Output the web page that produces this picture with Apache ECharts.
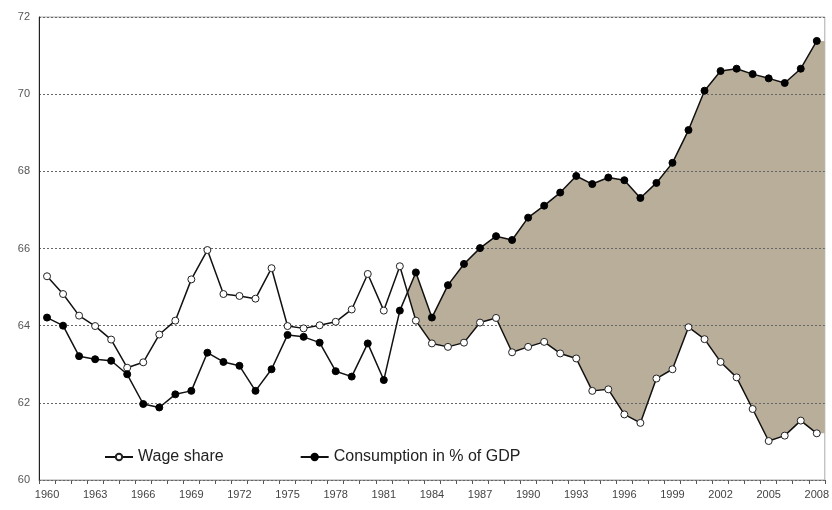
<!DOCTYPE html>
<html>
<head>
<meta charset="utf-8">
<script src="https://cdn.jsdelivr.net/npm/echarts@6/dist/echarts.min.js"></script>
<style>html,body{margin:0;padding:0;background:#fff}#c{width:832px;height:510px}</style>
</head>
<body>
<div id="c"></div>
<script>
const years = [];
for (let y = 1960; y <= 2008; y++) years.push(String(y));

const wageShare = [65.28,64.82,64.26,63.99,63.64,62.91,63.05,63.77,64.13,65.20,
  65.96,64.82,64.77,64.70,65.49,63.99,63.93,64.01,64.10,64.42,
  65.34,64.39,65.54,64.13,63.54,63.45,63.56,64.08,64.20,63.31,
  63.45,63.58,63.28,63.15,62.31,62.35,61.70,61.48,62.63,62.87,
  63.96,63.65,63.06,62.66,61.84,61.01,61.15,61.54,61.21];

const consumption = [64.21,64.00,63.21,63.13,63.09,62.74,61.97,61.88,62.22,62.31,
  63.30,63.06,62.96,62.31,62.87,63.76,63.71,63.56,62.82,62.68,
  63.54,62.59,64.39,65.38,64.21,65.05,65.60,66.01,66.32,66.22,
  66.80,67.11,67.45,67.88,67.67,67.84,67.77,67.31,67.70,68.22,
  69.07,70.09,70.60,70.66,70.52,70.41,70.29,70.66,71.38];

const yTicks = [60, 62, 64, 66, 68, 70, 72];
const shadeFrom = 1982;

// gap band (consumption above wage share), from the crossing after shadeFrom to the plot's right edge
const i0 = years.indexOf(String(shadeFrom));
const d0 = consumption[i0] - wageShare[i0];
const d1 = consumption[i0 + 1] - wageShare[i0 + 1];
const t = d0 / (d0 - d1);
const xc = i0 + t;
const wc = wageShare[i0] + (wageShare[i0 + 1] - wageShare[i0]) * t;
const bandData = [[xc, wc, wc]];
for (let i = i0 + 1; i < years.length; i++) {
  bandData.push([i, wageShare[i], consumption[i]]);
}
const last = years.length - 1;
bandData.push([last + 0.5, wageShare[last], consumption[last]]);

const chart = echarts.init(document.getElementById('c'));
chart.setOption({
  animation: false,
  backgroundColor: '#fff',
  grid: { left: 39, right: 5, top: 17, bottom: 30, show: true, borderColor: '#aaa', borderWidth: 1 },
  legend: {
    data: ['Wage share', 'Consumption in % of GDP'],
    left: 99, top: 444, itemGap: 76, itemWidth: 28, itemHeight: 8,
    textStyle: { fontFamily: 'Arial, Liberation Sans', fontSize: 16, color: '#222' }
  },
  xAxis: [{
    type: 'category', data: years, boundaryGap: true,
    axisLine: { lineStyle: { color: '#999' } },
    axisTick: { show: true, interval: 0, length: 4, lineStyle: { color: '#555' } },
    axisLabel: { interval: 2, color: '#444', fontSize: 11, fontFamily: 'Arial, Liberation Sans', margin: 9 },
    splitLine: { show: false }
  }, {
    type: 'value', min: -0.5, max: years.length - 0.5, show: false
  }],
  yAxis: {
    type: 'value', min: yTicks[0], max: yTicks[yTicks.length - 1], interval: 2, z: 3,
    axisLine: { show: true, onZero: false, lineStyle: { color: '#222' } },
    axisTick: { show: false },
    axisLabel: { color: '#555', fontSize: 11, fontFamily: 'Arial, Liberation Sans', margin: 9 },
    splitLine: { show: true, lineStyle: { color: '#666', type: [2, 2], width: 1 } }
  },
  series: [
    { name: 'gap', type: 'custom', xAxisIndex: 1, data: bandData, silent: true, z: 1,
      encode: { x: 0, y: [1, 2] },
      renderItem: function (params, api) {
        if (params.dataIndex !== 0) return null;
        const pts = [];
        for (let k = 0; k < bandData.length; k++) pts.push(api.coord([bandData[k][0], bandData[k][2]]));
        for (let k = bandData.length - 1; k >= 0; k--) pts.push(api.coord([bandData[k][0], bandData[k][1]]));
        return { type: 'polygon', shape: { points: pts }, style: { fill: '#b8ae9a' } };
      }
    },
    { name: 'Wage share', type: 'line', data: wageShare, symbol: 'circle', symbolSize: 7,
      lineStyle: { color: '#111', width: 1.5 },
      itemStyle: { color: '#fff', borderColor: '#222', borderWidth: 1 }, z: 5 },
    { name: 'Consumption in % of GDP', type: 'line', data: consumption, symbol: 'circle', symbolSize: 7,
      lineStyle: { color: '#111', width: 1.5 },
      itemStyle: { color: '#000', borderColor: '#000', borderWidth: 1 }, z: 5 }
  ]
});
</script>
</body>
</html>
